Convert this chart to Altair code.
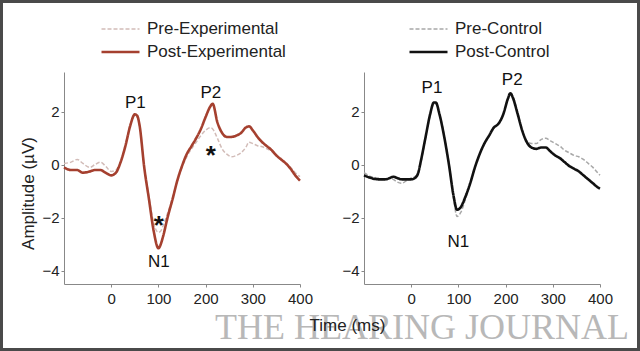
import altair as alt
import pandas as pd

# ---------------- data ----------------
TIME_EXP = [-100, -85, -72, -60, -45, -35, -23, -12, 0, 10,
            20, 30, 40, 50, 55, 60, 70, 80, 90, 100,
            105, 110, 120, 130, 140, 150, 160, 170, 180, 190,
            200, 210, 215, 225, 235, 245, 255, 265, 275, 285,
            292, 300, 310, 320, 330, 340, 350, 360, 370, 380,
            390, 400]
PRE_EXP = [0.05, 0.1, 0.2, 0.05, -0.1, 0.0, 0.1, -0.05, -0.25, -0.2,
           0.15, 0.75, 1.5, 1.85, 1.8, 1.45, -0.05, -1.2, -2.2, -2.55,
           -2.5, -2.3, -1.8, -1.25, -0.6, -0.1, 0.3, 0.6, 0.85, 1.1,
           1.3, 1.4, 1.35, 1.0, 0.6, 0.4, 0.3, 0.35, 0.45, 0.65,
           0.85, 0.8, 0.72, 0.68, 0.6, 0.5, 0.35, 0.2, 0.05, -0.1,
           -0.3, -0.45]
POST_EXP = [-0.1, -0.2, -0.2, -0.3, -0.25, -0.2, -0.2, -0.3, -0.4, -0.3,
            0.1, 0.7, 1.45, 1.9, 1.85, 1.5, -0.1, -1.3, -2.5, -3.15,
            -3.0, -2.7, -1.95, -1.3, -0.6, -0.05, 0.4, 0.7, 1.0, 1.35,
            1.8, 2.2, 2.3, 1.6, 1.2, 1.05, 1.05, 1.1, 1.2, 1.4,
            1.45, 1.3, 1.05, 0.85, 0.7, 0.55, 0.35, 0.2, 0.05, -0.15,
            -0.4, -0.6]

TIME_CTL = [-100, -85, -70, -55, -45, -38, -30, -20, -10, 0,
            8, 15, 20, 30, 40, 48, 52, 60, 70, 80,
            90, 97, 105, 115, 125, 135, 145, 155, 165, 175,
            185, 195, 205, 210, 215, 225, 235, 245, 255, 265,
            275, 285, 295, 305, 315, 325, 335, 345, 355, 365,
            375, 385, 395, 400]
PRE_CTL = [-0.3, -0.45, -0.5, -0.55, -0.5, -0.55, -0.65, -0.7, -0.6, -0.5,
           -0.45, -0.3, 0.05, 0.95, 1.85, 2.3, 2.3, 1.9, 1.1, 0.05,
           -1.3, -1.95, -1.8, -1.3, -0.7, -0.1, 0.4, 0.8, 1.1, 1.4,
           1.55, 1.9, 2.5, 2.7, 2.6, 2.0, 1.35, 0.9, 0.8, 0.8,
           0.95, 1.0, 0.9, 0.8, 0.7, 0.55, 0.45, 0.35, 0.3, 0.2,
           0.05, -0.1, -0.3, -0.4]
POST_CTL = [-0.4, -0.5, -0.55, -0.55, -0.5, -0.45, -0.5, -0.55, -0.55, -0.55,
            -0.5, -0.3, 0.1, 1.0, 1.9, 2.35, 2.35, 1.9, 1.05, 0.0,
            -1.2, -1.7, -1.6, -1.2, -0.7, -0.1, 0.4, 0.8, 1.1, 1.4,
            1.55, 1.9, 2.5, 2.7, 2.55, 1.95, 1.3, 0.85, 0.65, 0.6,
            0.65, 0.65, 0.5, 0.35, 0.25, 0.1, -0.05, -0.15, -0.25, -0.4,
            -0.55, -0.7, -0.85, -0.9]

SERIES_EXP = ["Pre-Experimental", "Post-Experimental"]
SERIES_CTL = ["Pre-Control", "Post-Control"]

PEAK_LABELS = ["P1", "N1", "P2"]
PEAK_T_EXP = [51, 101, 211]
PEAK_V_EXP = [2.34, -3.66, 2.72]
PEAK_T_CTL = [44, 100, 214]
PEAK_V_CTL = [2.9, -2.9, 3.2]
STAR_T_EXP = [101, 211]
STAR_V_EXP = [-2.1, 0.57]

X_TICKS = [0, 100, 200, 300, 400]
Y_TICKS = [-4, -2, 0, 2]

FONT = "Liberation Sans"
W, H = 236, 212


def long_df(t, pre, post, names):
    return pd.DataFrame({
        "t": t + t,
        "v": pre + post,
        "series": [names[0]] * len(t) + [names[1]] * len(t),
    })


df_exp = long_df(TIME_EXP, PRE_EXP, POST_EXP, SERIES_EXP)
df_ctl = long_df(TIME_CTL, PRE_CTL, POST_CTL, SERIES_CTL)


def panel(df, names, colors, legend_x, peaks, stars, left):
    leg = alt.Legend(orient="none", legendX=legend_x, legendY=-53.5, title=None,
                     symbolType="stroke", symbolSize=1444, labelFontSize=17,
                     labelFont=FONT, labelColor="#222", labelOffset=6,
                     clipHeight=21, rowPadding=2, padding=0)
    x_axis = alt.Axis(values=X_TICKS, grid=False, labelFontSize=15, labelFont=FONT,
                      labelColor="#222", domainColor="#888", tickColor="#888",
                      tickSize=3, labelPadding=4, labelFlush=False,
                      title="Time (ms)" if left else None,
                      titleFont=FONT, titleFontSize=17, titleFontWeight="normal",
                      titleColor="#222", titleX=283, titleY=41,
                      titleAlign="center", titleBaseline="middle", zindex=1)
    y_axis = alt.Axis(values=Y_TICKS, grid=False, labelFontSize=15, labelFont=FONT,
                      labelColor="#222", domainColor="#888", tickColor="#888",
                      tickSize=3, labelPadding=2,
                      title="Amplitude (µV)" if left else None,
                      titleFont=FONT, titleFontSize=17, titleFontWeight="normal",
                      titleColor="#222", titleX=-36, titleY=121,
                      titleAlign="center", titleBaseline="middle", titleAngle=270)
    base = alt.Chart(df)
    lines = base.mark_line(interpolate="monotone").encode(
        x=alt.X("t:Q", scale=alt.Scale(domain=[-100, 400], nice=False), axis=x_axis),
        y=alt.Y("v:Q", scale=alt.Scale(domain=[-4.5, 3.5], nice=False), axis=y_axis),
        color=alt.Color("series:N", scale=alt.Scale(domain=names, range=colors), legend=leg),
        strokeDash=alt.StrokeDash("series:N", scale=alt.Scale(domain=names, range=[[4, 2], [1, 0]]), legend=leg),
        strokeWidth=alt.StrokeWidth("series:N", scale=alt.Scale(domain=names, range=[1.5, 2.6]), legend=leg),
        order=alt.Order("series:N", sort="descending"),
    )
    pdf = pd.DataFrame({"t": peaks[0], "v": peaks[1], "lab": PEAK_LABELS})
    ptext = alt.Chart(pdf).mark_text(font=FONT, fontSize=17, color="#111",
                                     baseline="middle").encode(
        x="t:Q", y="v:Q", text="lab:N")
    layers = [lines, ptext]
    if stars:
        sdf = pd.DataFrame({"t": stars[0], "v": stars[1], "lab": ["*"] * len(stars[0])})
        stext = alt.Chart(sdf).mark_text(font=FONT, fontSize=26, fontWeight="bold",
                                         color="#111", baseline="alphabetic", dy=14).encode(
            x="t:Q", y="v:Q", text="lab:N")
        layers.append(stext)
    if left:
        wm = alt.Chart(pd.DataFrame({"w": ["THE HEARING JOURNAL"]})).mark_text(
            font="Liberation Serif", fontSize=36, color="#b8b8b8", align="left",
            baseline="alphabetic").encode(
            text="w:N", x=alt.value(151), y=alt.value(267))
        frame = alt.Chart(pd.DataFrame({"f": [0]})).mark_rect(
            fill=None, stroke="#4a4a4a", strokeWidth=3).encode(
            x=alt.value(-62.5), x2=alt.value(574.5), y=alt.value(-70.5), y2=alt.value(277.5))
        layers = [wm] + layers + [frame]
    return alt.layer(*layers).properties(width=W, height=H)


left = panel(df_exp, SERIES_EXP, ["#d2bcb8", "#a5402f"], 36,
             (PEAK_T_EXP, PEAK_V_EXP), (STAR_T_EXP, STAR_V_EXP), True)
right = panel(df_ctl, SERIES_CTL, ["#a8a8a8", "#111111"], 44,
              (PEAK_T_CTL, PEAK_V_CTL), None, False)

chart = alt.hconcat(left, right, spacing=64, bounds="flush").resolve_scale(
    color="independent", strokeDash="independent", strokeWidth="independent"
).resolve_legend(
    color="independent", strokeDash="independent", strokeWidth="independent"
).properties(
    padding=0,
    background="white",
).configure_view(stroke=None)

chart.save("out.html", embed_options={"renderer": "svg", "actions": False})
